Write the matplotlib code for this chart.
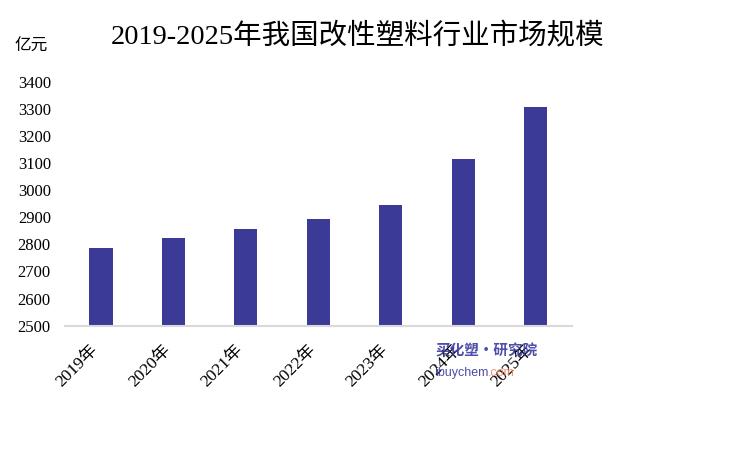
import matplotlib
matplotlib.use('Agg')
import matplotlib.pyplot as plt
import matplotlib.transforms as mtransforms

# data
years = ['2019年', '2020年', '2021年', '2022年', '2023年', '2024年', '2025年']
market_size = [2786, 2823, 2857, 2894, 2946, 3116, 3306]
y_ticks = [2500, 2600, 2700, 2800, 2900, 3000, 3100, 3200, 3300, 3400]

plt.rcParams['font.family'] = ['Liberation Serif', 'Noto Sans CJK SC', 'DejaVu Sans']

fig = plt.figure(figsize=(7.5, 4.5), dpi=100)
ax = fig.add_axes([0.0863, 0.2762, 0.6764, 0.5422])

x = range(len(years))
ax.bar(x, market_size, width=0.32, color='#3b3a96', zorder=2)

ax.set_xlim(-0.5, len(years) - 0.5)
ax.set_ylim(y_ticks[0], y_ticks[-1])
ax.set_yticks(y_ticks)
ax.set_yticklabels([str(t) for t in y_ticks], fontsize=12)
ax.set_xticks(list(x))
ax.set_xticklabels(years, rotation=45, ha='right', va='center', rotation_mode='anchor', fontsize=12.5)
ax.tick_params(axis='both', length=0)
ax.tick_params(axis='y', pad=10)
ax.tick_params(axis='x', pad=16)

# nudge x labels a little to the left, like the reference
shift = mtransforms.ScaledTranslation(-5 / 100, 0, fig.dpi_scale_trans)
for lbl in ax.get_xticklabels():
    lbl.set_transform(lbl.get_transform() + shift)

for side in ['top', 'right', 'left']:
    ax.spines[side].set_visible(False)
ax.spines['bottom'].set_color('#d9d9d9')
ax.spines['bottom'].set_linewidth(1.5)
ax.spines['bottom'].set_zorder(3)

fig.text(0.477, 0.92, '2019-2025年我国改性塑料行业市场规模', ha='center', va='center', fontsize=20.5)
fig.text(0.019, 0.897, '亿元', ha='left', va='center', fontsize=12)

# watermark
fig.text(0.58, 0.222, '买化塑·研究院', ha='left', va='center', fontsize=10.5,
         color='#3b3a9e', fontweight='bold', style='italic', family=['Noto Sans CJK SC'], alpha=0.9)
fig.text(0.58, 0.172, 'ibuychem', ha='left', va='center', fontsize=9,
         color='#3b3a9e', family=['Liberation Sans'], alpha=0.9)
fig.text(0.651, 0.172, '.com', ha='left', va='center', fontsize=9,
         color='#f4845f', family=['Liberation Sans'], alpha=0.9)

plt.savefig('out.png', dpi=100)
plt.close('all')
